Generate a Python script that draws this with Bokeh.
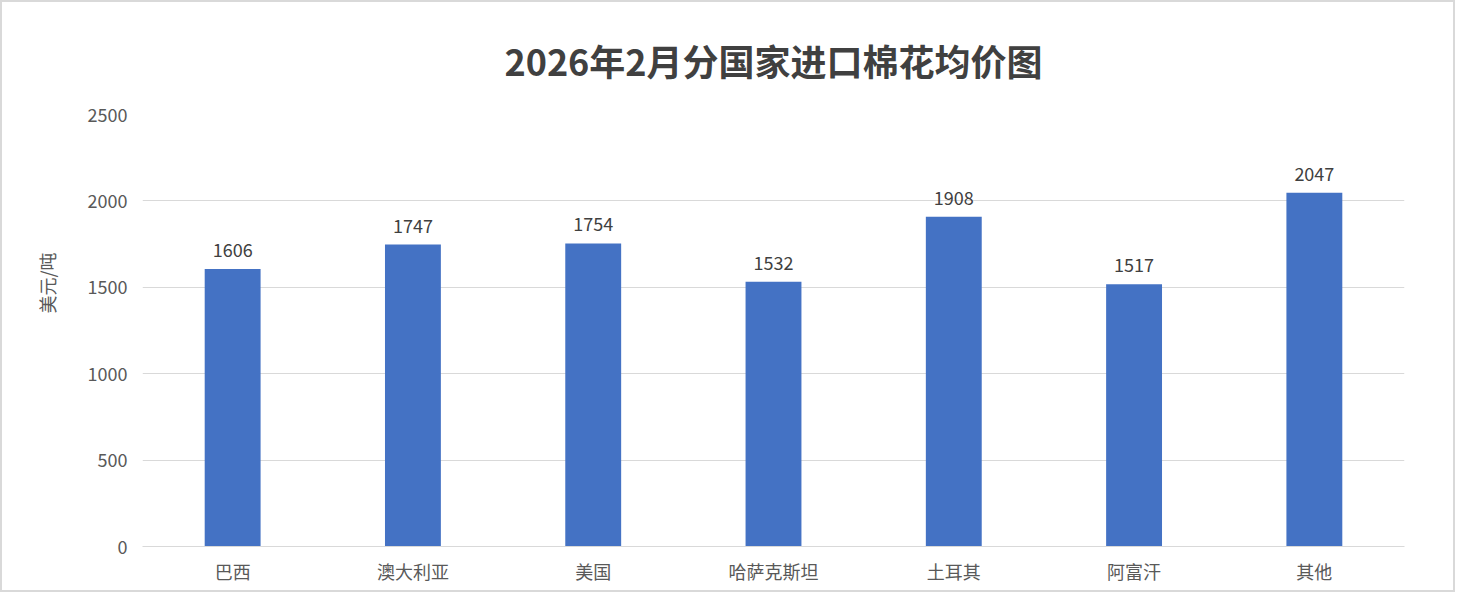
from bokeh.plotting import figure
from bokeh.models import ColumnDataSource, LabelSet, Title, SingleIntervalTicker
from bokeh.core.properties import value
from bokeh.embed import file_html
from bokeh.resources import INLINE

categories = ["巴西", "澳大利亚", "美国", "哈萨克斯坦", "土耳其", "阿富汗", "其他"]
prices = [1606, 1747, 1754, 1532, 1908, 1517, 2047]
title_text = "2026年2月分国家进口棉花均价图"
y_label = "美元/吨"

src = ColumnDataSource(dict(cat=categories, val=prices, lab=[str(v) for v in prices]))

FONT = "Noto Sans CJK SC"
B = 2  # css border width

p = figure(x_range=categories, y_range=(0, 2500), width=1455, height=592,
           output_backend="svg", toolbar_location=None,
           min_border_left=140, min_border_right=53,
           min_border_bottom=48, min_border_top=112)
p.styles = {"border": f"{B}px solid #d9d9d9", "box-sizing": "border-box"}

p.title = None
t = Title(text=title_text, align="center", text_font=FONT, text_font_size="36px",
          text_font_style="bold", text_color="#404040", standoff=57)
p.add_layout(t, "above")

yt = Title(text=y_label, align="right", offset=138, text_font=FONT, text_font_size="18px",
           text_font_style="normal", text_color="#595959", standoff=50)
p.add_layout(yt, "left")

p.vbar(x="cat", top="val", width=0.31, source=src, color="#4472C4", line_color=None)

labels = LabelSet(x="cat", y="val", text="lab", source=src, text_align="center",
                  text_baseline="middle", y_offset=19, text_font=value(FONT),
                  text_font_size=value("18px"), text_color=value("#404040"))
p.add_layout(labels)

p.outline_line_color = None
p.xgrid.grid_line_color = None
p.ygrid.grid_line_color = "#d9d9d9"
p.ygrid.grid_line_width = 1
p.yaxis.ticker = SingleIntervalTicker(interval=500)

for ax in (p.xaxis, p.yaxis):
    ax.axis_line_color = None
    ax.major_tick_line_color = None
    ax.minor_tick_line_color = None
    ax.major_label_text_font = FONT
    ax.major_label_text_font_size = "18px"
    ax.major_label_text_color = "#595959"

p.xaxis.axis_line_color = "#d9d9d9"
p.xaxis.major_label_standoff = 5
p.yaxis.major_label_standoff = 9
p.x_range.range_padding = 0.0

open("out.html", "w").write(file_html(p, INLINE))
